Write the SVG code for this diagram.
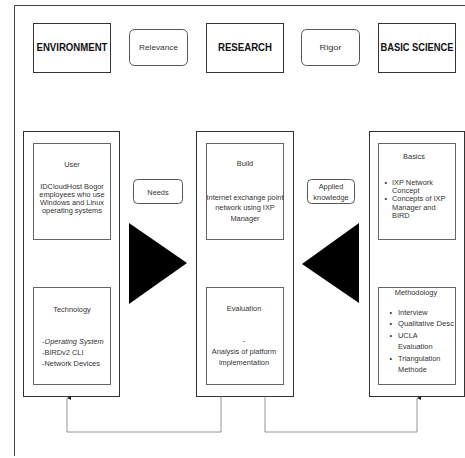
<svg xmlns="http://www.w3.org/2000/svg" width="465" height="458" viewBox="0 0 465 458">
<defs>
<style>
.frame{fill:none;stroke:#444;stroke-width:1}
.col{fill:#fff;stroke:#333;stroke-width:1}
.inner{fill:#fff;stroke:#666;stroke-width:1}
.pill{fill:#fff;stroke:#444;stroke-width:0.9}
.hdr{font-family:"Liberation Sans",Arial,sans-serif;font-weight:bold;font-size:10.5px;fill:#111;text-anchor:middle}
.lbl{font-family:"Liberation Sans",Arial,sans-serif;font-size:7.4px;fill:#333;text-anchor:middle}
.txt{font-family:"Liberation Sans",Arial,sans-serif;font-size:7.4px;fill:#333}
.conn{fill:none;stroke:#888;stroke-width:0.9}
.tri{fill:#000}
</style>
<marker id="arr" viewBox="0 0 6 6" refX="3" refY="0" markerWidth="4" markerHeight="4" orient="auto-start-reverse" markerUnits="userSpaceOnUse">
<path d="M0,6 L3,0 L6,6 z" fill="#222"/>
</marker>
</defs>
<rect width="465" height="458" fill="#fff"/>
<path class="frame" d="M14.5,456 V5.5 H465"/>

<g id="environment">
<rect class="col" x="33.5" y="23.5" width="77" height="49"/>
<text class="hdr" x="72" y="51" textLength="71" lengthAdjust="spacingAndGlyphs">ENVIRONMENT</text>
</g>
<g id="relevance">
<rect class="pill" x="129.5" y="29.5" width="58" height="36" rx="5"/>
<text class="lbl" x="158.5" y="50" textLength="39" lengthAdjust="spacingAndGlyphs">Relevance</text>
</g>
<g id="research">
<rect class="col" x="206.5" y="23.5" width="77" height="49"/>
<text class="hdr" x="245" y="51" textLength="54" lengthAdjust="spacingAndGlyphs">RESEARCH</text>
</g>
<g id="rigor">
<rect class="pill" x="301.5" y="29.5" width="58" height="36" rx="5"/>
<text class="lbl" x="330.5" y="50" textLength="22" lengthAdjust="spacingAndGlyphs">Rigor</text>
</g>
<g id="basic-science">
<rect class="col" x="378.5" y="23.5" width="77" height="49"/>
<text class="hdr" x="417" y="51" textLength="73" lengthAdjust="spacingAndGlyphs">BASIC SCIENCE</text>
</g>

<g id="env-column">
<rect class="col" x="23.5" y="131.5" width="96" height="265"/>
</g>
<g id="user">
<rect class="inner" x="33.5" y="143.5" width="77" height="96"/>
<text class="lbl" x="72" y="167">User</text>
<text class="lbl" x="72" y="189">IDCloudHost Bogor</text>
<text class="lbl" x="72" y="197">employees who use</text>
<text class="lbl" x="72" y="205">Windows and Linux</text>
<text class="lbl" x="72" y="213">operating systems</text>
</g>
<g id="technology">
<rect class="inner" x="33.5" y="287.5" width="77" height="97"/>
<text class="lbl" x="72" y="312">Technology</text>
<text class="txt" x="42" y="344" font-style="italic">-Operating System</text>
<text class="txt" x="42" y="355">-BIRDv2 CLI</text>
<text class="txt" x="42" y="366">-Network Devices</text>
</g>

<g id="research-column">
<rect class="col" x="196.5" y="131.5" width="97" height="265"/>
</g>
<g id="build">
<rect class="inner" x="206.5" y="143.5" width="77" height="96"/>
<text class="lbl" x="245" y="166">Build</text>
<text class="lbl" x="245" y="200" textLength="77" lengthAdjust="spacingAndGlyphs">Internet exchange point</text>
<text class="lbl" x="245" y="210">network using IXP</text>
<text class="lbl" x="245" y="221">Manager</text>
</g>
<g id="evaluation">
<rect class="inner" x="206.5" y="287.5" width="77" height="97"/>
<text class="lbl" x="244" y="311">Evaluation</text>
<text class="lbl" x="244" y="343">-</text>
<text class="lbl" x="244" y="354">Analysis of platform</text>
<text class="lbl" x="244" y="365">implementation</text>
</g>

<g id="science-column">
<rect class="col" x="369.5" y="131.5" width="95" height="265"/>
</g>
<g id="basics">
<rect class="inner" x="378.5" y="143.5" width="77" height="96"/>
<text class="lbl" x="414" y="159">Basics</text>
<text class="txt" x="384.5" y="185">•</text><text class="txt" x="392" y="185">IXP Network</text>
<text class="txt" x="392" y="193">Concept</text>
<text class="txt" x="384.5" y="201">•</text><text class="txt" x="392" y="201">Concepts of IXP</text>
<text class="txt" x="392" y="209.5">Manager and</text>
<text class="txt" x="392" y="218">BIRD</text>
</g>
<g id="methodology">
<rect class="inner" x="378.5" y="287.5" width="77" height="97"/>
<text class="lbl" x="416" y="294.5">Methodology</text>
<text class="txt" x="389.5" y="314.5">•</text><text class="txt" x="398" y="314.5">Interview</text>
<text class="txt" x="389.5" y="326">•</text><text class="txt" x="398" y="326" textLength="56" lengthAdjust="spacingAndGlyphs">Qualitative Desc</text>
<text class="txt" x="389.5" y="337.5">•</text><text class="txt" x="398" y="337.5">UCLA</text>
<text class="txt" x="398" y="349">Evaluation</text>
<text class="txt" x="389.5" y="360.5">•</text><text class="txt" x="398" y="360.5">Triangulation</text>
<text class="txt" x="398" y="372">Methode</text>
</g>

<g id="needs">
<rect class="pill" x="133.5" y="179.5" width="49" height="24" rx="4"/>
<text class="lbl" x="158" y="194.5">Needs</text>
</g>
<g id="applied-knowledge">
<rect class="pill" x="307.5" y="179.5" width="47" height="24" rx="4"/>
<text class="lbl" x="331" y="189">Applied</text>
<text class="lbl" x="331" y="199.5">knowledge</text>
</g>

<g id="arrow-right">
<polygon class="tri" points="129,223 187,263 129,304"/>
</g>
<g id="arrow-left">
<polygon class="tri" points="359,223 302,264 359,303"/>
</g>

<g id="connectors">
<path class="conn" d="M221,396.5 V432 H67 V398" marker-end="url(#arr)"/>
<path class="conn" d="M265,396.5 V432 H417 V398" marker-end="url(#arr)"/>
</g>
</svg>
